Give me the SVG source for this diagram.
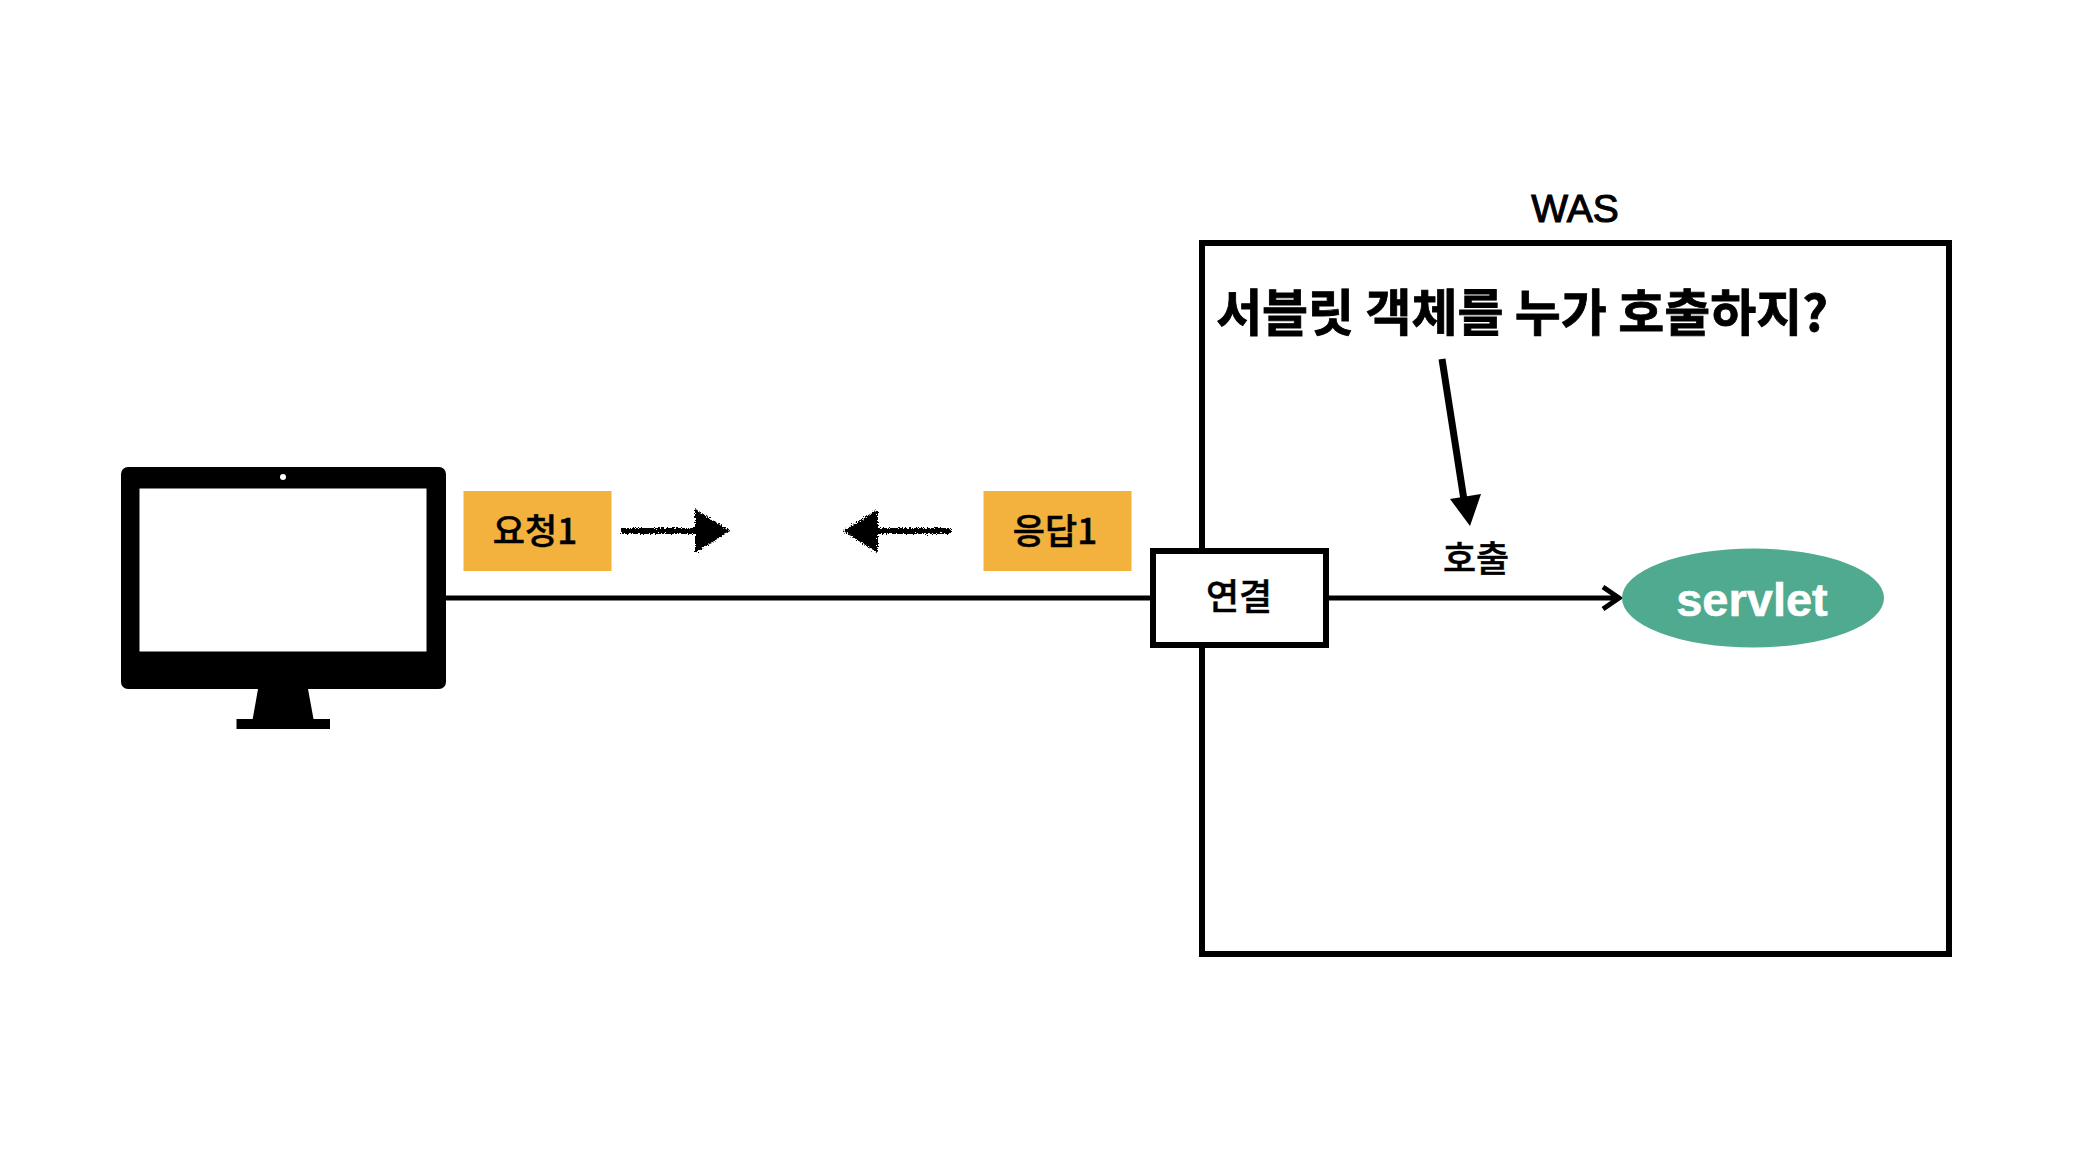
<svg xmlns="http://www.w3.org/2000/svg" width="2092" height="1162" viewBox="0 0 2092 1162">
<style>
text{font-family:"Liberation Sans","Noto Sans CJK KR",sans-serif;fill:#000;text-anchor:middle}
.m{font-family:"Noto Sans CJK KR","Liberation Sans",sans-serif;font-weight:500;stroke:#000;stroke-width:.5}
.b{font-family:"Noto Sans CJK KR","Liberation Sans",sans-serif;font-weight:700;stroke:#000;stroke-width:.8}
.box{fill:#fff;stroke:#000;stroke-width:6}
.tag{fill:#f3b13e}
.ln{fill:none;stroke:#000;stroke-width:5}
</style>
<defs>
<filter id="rough" x="-10%" y="-30%" width="120%" height="160%">
<feTurbulence type="fractalNoise" baseFrequency="0.8" numOctaves="2" seed="4"/>
<feDisplacementMap in="SourceGraphic" scale="6" xChannelSelector="R" yChannelSelector="G"/>
</filter>
</defs>
<rect width="2092" height="1162" fill="#fff"/>
<g id="was">
<rect class="box" x="1202" y="243" width="747" height="711" style="fill:none"/>
<text x="1575" y="222" font-size="39" style="stroke:#000;stroke-width:1.1">WAS</text>
<text class="b" x="1522" y="331" font-size="50">서블릿 객체를 누가 호출하지?</text>
</g>
<g id="connectors">
<path class="ln" d="M446 598H1152"/>
<path class="ln" d="M1326 598H1619M1603 587L1619 598L1603 609"/>
<path d="M1442 359L1464 500" fill="none" stroke="#000" stroke-width="7"/>
<path d="M1450 499L1481 494L1470 526Z" fill="#000"/>
<g filter="url(#rough)">
<path d="M621 531H700M951 531H872" fill="none" stroke="#000" stroke-width="6"/>
<path d="M695 509L730 531L695 553ZM878 509L843 531L878 553Z" fill="#000"/>
</g>
</g>
<g id="client">
<rect x="121" y="467" width="325" height="222" rx="7" fill="#000"/>
<rect x="139.500" y="488.500" width="287" height="163" fill="#fff"/>
<circle cx="283" cy="477" r="3" fill="#fff"/>
<path d="M258 689H308L313.500 719H330V729H236.500V719H252.700Z" fill="#000"/>
</g>
<g id="req">
<rect class="tag" x="463.500" y="491" width="148" height="80"/>
<text class="m" x="535" y="544" font-size="35">요청1</text>
</g>
<g id="res">
<rect class="tag" x="983.500" y="491" width="148" height="80"/>
<text class="m" x="1055" y="544" font-size="35">응답1</text>
</g>
<g id="conn">
<rect class="box" x="1153" y="551" width="173" height="94"/>
<text class="m" x="1239" y="610" font-size="36">연결</text>
</g>
<g id="call"><text class="m" x="1476" y="572" font-size="36">호출</text></g>
<g id="servlet">
<ellipse cx="1753" cy="598" rx="131" ry="49.500" fill="#4faa8f"/>
<text x="1752" y="616" font-size="47" font-weight="700" style="fill:#fff;stroke:#fff;stroke-width:.6">servlet</text>
</g>
</svg>
